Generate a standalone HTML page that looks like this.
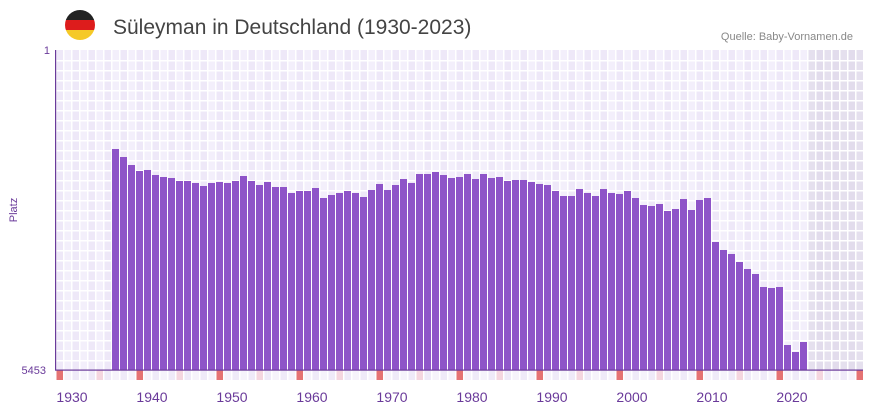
<!DOCTYPE html>
<html><head><meta charset="utf-8"><style>
body{margin:0;background:#fff;width:873px;height:412px;overflow:hidden;font-family:"Liberation Sans",sans-serif}
</style></head><body>
<svg id="s" width="873" height="412" xmlns="http://www.w3.org/2000/svg">
<defs><clipPath id="c"><circle cx="80" cy="25" r="15"/></clipPath></defs>
<g clip-path="url(#c)"><rect x="64" y="10" width="32" height="10" fill="#222"/><rect x="64" y="20" width="32" height="10" fill="#dd1c1c"/><rect x="64" y="30" width="32" height="10" fill="#f5c928"/></g>
<text x="113" y="34" font-size="21" fill="#444">Süleyman in Deutschland (1930-2023)</text>
<text x="853" y="40" font-size="11" fill="#888" text-anchor="end">Quelle: Baby-Vornamen.de</text>
<text x="50" y="54" font-size="11" fill="#6a3a9a" text-anchor="end">1</text>
<text x="46" y="374" font-size="11" fill="#6a3a9a" text-anchor="end">5453</text>
<text x="17" y="210" font-size="11" fill="#6a3a9a" text-anchor="middle" transform="rotate(-90 17 210)">Platz</text>
<g id="g"></g>
<g font-size="14" fill="#6a3a9a" text-anchor="middle">
<text x="72" y="402">1930</text><text x="152" y="402">1940</text><text x="232" y="402">1950</text><text x="312" y="402">1960</text><text x="392" y="402">1970</text><text x="472" y="402">1980</text><text x="552" y="402">1990</text><text x="632" y="402">2000</text><text x="712" y="402">2010</text><text x="792" y="402">2020</text>
</g>
</svg>
<script>
var g=document.getElementById('g'),h='';
for(var i=0;i<101;i++){var x=56+8*i;var fut=i>=94;
h+='<rect x="'+x+'" y="50" width="8" height="320" fill="'+(fut?(i%2?'#e2dcec':'#e5e0ee'):(i%2?'#f3effb':'#eee8f8'))+'"/>';
var m=i%10==0?'#e57373':(i%10==5?'#f5d6df':(i%2?'#f6f3fb':'#efeaf8'));
h+='<rect x="'+x+'" y="370" width="8" height="10" fill="'+m+'"/>';}
for(var i=0;i<=101;i++)h+='<rect x="'+(55+8*i)+'" y="50" width="1.5" height="330" fill="#fff"/>';
for(var y=60;y<370;y+=10)h+='<rect x="55" y="'+y+'" width="808" height="1.5" fill="#fff"/>';
var d=[149,157,165,171,170,175,177,178,181,181,183,186,183,182,183,181,176,181,185,182,187,187,193,191,191,188,198,195,193,191,193,197,190,184,190,185,179,183,174,174,172,175,178,177,174,179,174,178,177,181,180,180,182,184,185,191,196,196,189,193,196,189,193,194,191,198,205,206,204,211,209,199,210,200,198,242,250,254,262,269,274,287,288,287,345,352,342];
for(var k=0;k<d.length;k++){var x=56+8*(k+7);h+='<rect x="'+x+'" y="'+d[k]+'" width="7" height="'+(370-d[k])+'" fill="#8e54c8"/>';}
h+='<rect x="55" y="50" width="1.2" height="320" fill="#6a3a9a"/><rect x="55" y="369.5" width="808" height="1.2" fill="#6a3a9a"/>';
g.innerHTML=h;
</script>
</body></html>
